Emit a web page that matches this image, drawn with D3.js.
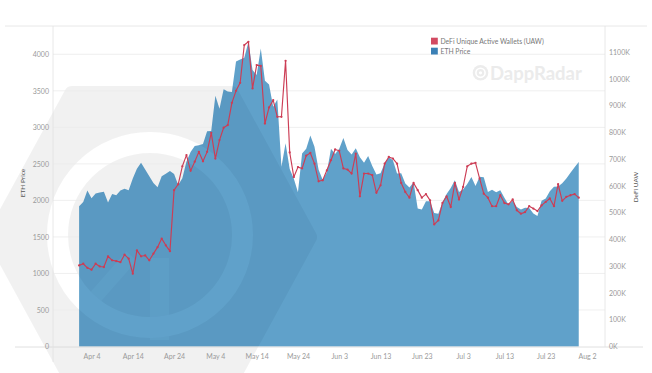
<!DOCTYPE html>
<html><head><meta charset="utf-8">
<script src="https://cdn.jsdelivr.net/npm/d3@7"></script>
<style>body{margin:0;background:#fff} svg{display:block} text{font-family:Lato,"Open Sans",sans-serif}</style>
</head><body><svg id="c" width="652" height="373"></svg>
<script>
// ---------------- data ----------------
const startDate = "2021-04-01"; // daily values from this date
const ethPrice = [
 1919,1977,2135,2028,2093,2108,2118,1971,2088,2072,
 2135,2158,2139,2299,2432,2515,2423,2330,2237,2180,
 2330,2364,2403,2363,2211,2303,2534,2663,2744,2756,
 2772,2946,2949,3431,3253,3522,3490,3484,3902,3928,
 3952,4168,3785,3715,4079,3638,3587,3282,3380,2460,
 2784,2430,2295,2110,2643,2706,2888,2736,2419,2280,
 2385,2707,2634,2706,2855,2689,2630,2715,2590,2517,
 2608,2472,2354,2373,2509,2590,2549,2368,2373,2231,
 2178,2247,1889,1875,1989,1989,1829,1817,1973,2087,
 2170,2275,2114,2150,2226,2322,2198,2324,2317,2116,
 2146,2111,2139,2037,1941,1995,1910,1876,1898,1895,
 1819,1788,1995,2027,2124,2188,2191,2234,2300,2380,2455,2525
];
const defiUAW = [ // thousands of wallets
 303,309,294,287,309,299,297,337,322,319,
 315,343,328,272,359,337,340,322,347,371,
 403,378,356,584,606,673,715,656,690,727,
 692,727,798,702,771,817,827,910,955,985,
 1126,1138,964,1051,1048,833,893,920,858,858,
 1067,725,633,670,665,713,723,683,617,621,
 658,696,736,731,665,661,646,720,561,646,
 646,640,574,602,683,708,702,683,611,577,
 556,611,584,556,569,546,456,471,536,561,
 521,611,549,596,673,683,686,627,571,556,
 524,524,565,536,531,549,509,496,502,524,
 515,506,527,540,553,524,606,544,559,565,569,556
];
const ethTicks = [0,500,1000,1500,2000,2500,3000,3500,4000];
const uawTicks = [0,100,200,300,400,500,600,700,800,900,1000,1100];
const xTickLabels = ["Apr 4","Apr 14","Apr 24","May 4","May 14","May 24","Jun 3","Jun 13","Jun 23","Jul 3","Jul 13","Jul 23","Aug 2"];
const seriesNames = ["DeFi Unique Active Wallets (UAW)","ETH Price"];
const axisTitles = ["ETH Price","DeFi UAW"];
const watermarkText = "DappRadar";

// ---------------- setup ----------------
const svg = d3.select("#c");
const t0 = d3.utcParse("%Y-%m-%d")(startDate);
const pts = ethPrice.map((v,i)=>({date:d3.utcDay.offset(t0,i), eth:v, uaw:defiUAW[i]}));
const tickDates = xTickLabels.map(s=>d3.utcParse("%b %e %Y")(s+" 2021"));

const x = d3.scaleUtc().domain([tickDates[0], tickDates[tickDates.length-1]]).range([91.5,587]);
const yL = d3.scaleLinear().domain([0,4000]).range([346.5,54.3]);
const yR = d3.scaleLinear().domain([0,1100]).range([346.5,52]);
const L=53, R=605, T=26, B=347;

const defs = svg.append("defs");
// watermark mask (hexagon logo with radar rings cut out)
const mask = defs.append("mask").attr("id","wm").attr("maskUnits","userSpaceOnUse")
  .attr("x",0).attr("y",0).attr("width",652).attr("height",373);
const hex = [[72,94],[231,94],[309,237],[231,380],[72,380],[-6,237]];
mask.append("polygon").attr("points",hex.map(p=>p.join(",")).join(" "))
  .attr("fill","#fff").attr("stroke","#fff").attr("stroke-width",16).attr("stroke-linejoin","round");
const cx=150, cy=235;
mask.append("circle").attr("cx",cx).attr("cy",cy).attr("r",92.5).attr("fill","none").attr("stroke","#000").attr("stroke-width",21);
mask.append("rect").attr("x",150).attr("y",258).attr("width",19).attr("height",82).attr("fill","#000").attr("opacity",0.6);
mask.append("line")
  .attr("x1",cx+Math.cos(Math.PI*0.73)*95).attr("y1",cy+Math.sin(Math.PI*0.73)*95)
  .attr("x2",cx+Math.cos(Math.PI*0.73)*28).attr("y2",cy+Math.sin(Math.PI*0.73)*28)
  .attr("stroke","#000").attr("stroke-width",14).attr("opacity",0.6);

const area = d3.area().x(d=>x(d.date)).y0(yL(0)).y1(d=>yL(d.eth));
defs.append("clipPath").attr("id","areaClip").append("path").attr("d",area(pts));

// background watermark (gray hexagon)
svg.append("rect").attr("width",652).attr("height",373).attr("fill","#000").attr("opacity",0.05).attr("mask","url(#wm)");

// gridlines
svg.append("g").selectAll("line").data(ethTicks.slice(1)).join("line")
  .attr("x1",L).attr("x2",R).attr("y1",d=>yL(d)).attr("y2",d=>yL(d))
  .attr("stroke","#ebebeb").attr("stroke-width",0.8);

// ETH area
svg.append("path").attr("d",area(pts)).attr("fill","#60a1ca");
// watermark shading over the area
svg.append("g").attr("clip-path","url(#areaClip)")
  .append("rect").attr("width",652).attr("height",373).attr("fill","#0b2a45").attr("opacity",0.06).attr("mask","url(#wm)");

// frame lines
const frame = svg.append("g").attr("stroke","#e2e2e2").attr("stroke-width",0.8);
frame.append("line").attr("x1",5).attr("x2",647).attr("y1",T).attr("y2",T);
frame.append("line").attr("x1",15).attr("x2",643).attr("y1",B).attr("y2",B).attr("stroke","#d8d8d8");
frame.append("line").attr("x1",L).attr("x2",L).attr("y1",T).attr("y2",362);
frame.append("line").attr("x1",R).attr("x2",R).attr("y1",T).attr("y2",B);

// axes
function styleAxis(g){ g.select(".domain").remove(); g.selectAll("line").remove();
  g.selectAll("text").attr("fill","#9a9a9a").style("font-size","7px").style("font-family","Lato, 'Open Sans', sans-serif"); }
svg.append("g").attr("transform",`translate(${L},0)`)
  .call(d3.axisLeft(yL).tickValues(ethTicks).tickSize(0).tickPadding(4).tickFormat(d3.format("d"))).call(styleAxis);
svg.append("g").attr("transform",`translate(${R},0)`)
  .call(d3.axisRight(yR).tickValues(uawTicks).tickSize(0).tickPadding(4).tickFormat(d=>d+"K")).call(styleAxis);
svg.append("g").attr("transform",`translate(0,${B})`)
  .call(d3.axisBottom(x).tickValues(tickDates).tickSize(0).tickPadding(7).tickFormat(d3.utcFormat("%b %-d"))).call(styleAxis);

// axis titles
svg.append("text").attr("transform","translate(25,183) rotate(-90)").attr("text-anchor","middle")
  .attr("fill","#555").style("font-size","6.5px").text(axisTitles[0]);
svg.append("text").attr("transform","translate(638,187) rotate(-90)").attr("text-anchor","middle")
  .attr("fill","#555").style("font-size","6.5px").text(axisTitles[1]);

// UAW line
const red = "#cc3d55";
const line = d3.line().x(d=>x(d.date)).y(d=>yR(d.uaw));
svg.append("path").attr("d",line(pts)).attr("fill","none").attr("stroke",red).attr("stroke-width",1.15).attr("stroke-linejoin","round");
svg.append("g").selectAll("circle").data(pts).join("circle")
  .attr("cx",d=>x(d.date)).attr("cy",d=>yR(d.uaw)).attr("r",1.15).attr("fill",red);

// legend
const leg = svg.append("g");
const legColors = ["#d24a62","#3b80b6"];
seriesNames.forEach((n,i)=>{
  leg.append("rect").attr("x",431).attr("y",37.7+i*10).attr("width",6.8).attr("height",6.8).attr("fill",legColors[i]);
  leg.append("text").attr("x",440.5).attr("y",43.6+i*10).attr("fill","#777").style("font-size","6.8px").text(n);
});

// top-right watermark
const wmk = svg.append("g");
wmk.append("circle").attr("cx",480.5).attr("cy",72.8).attr("r",7.8).attr("fill","#ececec");
wmk.append("circle").attr("cx",480.5).attr("cy",72.8).attr("r",4.6).attr("fill","none").attr("stroke","#fff").attr("stroke-width",1.6);
wmk.append("circle").attr("cx",480.5).attr("cy",72.8).attr("r",1.6).attr("fill","#fff");
wmk.append("text").attr("x",490).attr("y",80.3).attr("fill","#ebebeb").style("font-size","18.5px").style("font-weight","700").text(watermarkText);
</script></body></html>
